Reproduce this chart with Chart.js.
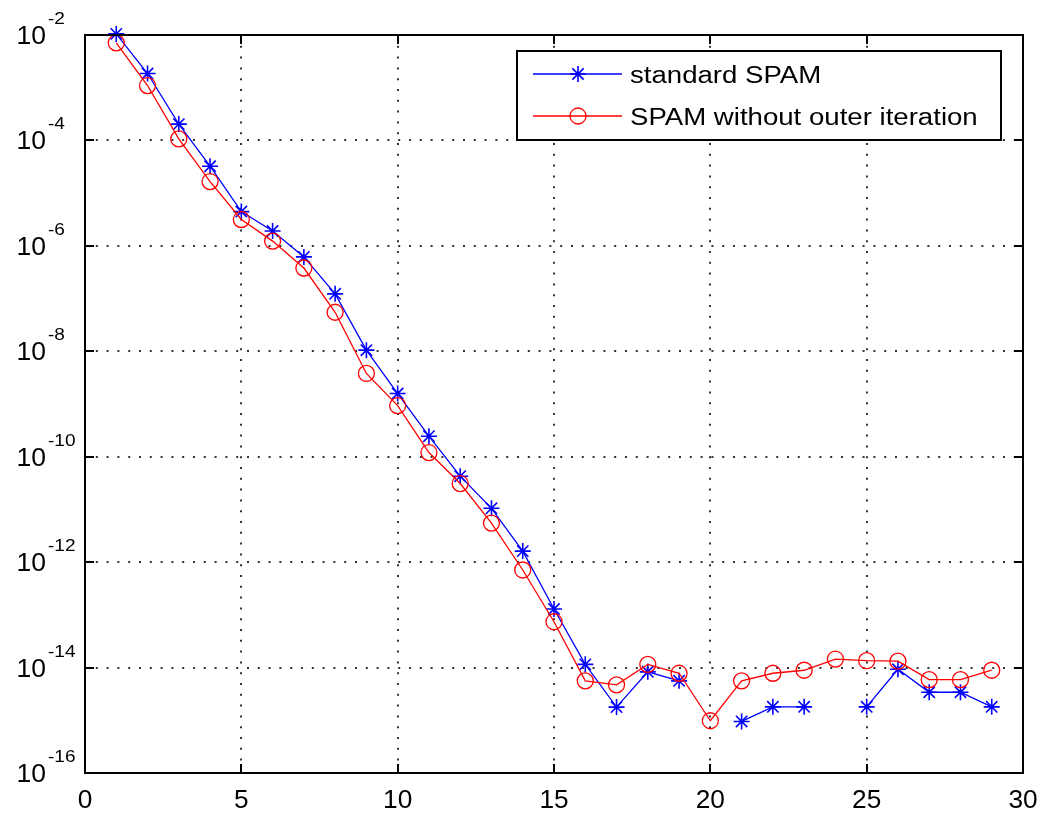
<!DOCTYPE html>
<html>
<head>
<meta charset="utf-8">
<script src="https://cdn.jsdelivr.net/npm/chart.js@4/dist/chart.umd.min.js"></script>
<style>
  body { margin: 0; background: #fff; }
  #wrap { width: 1041px; height: 814px; }
</style>
</head>
<body>
<div id="wrap"><canvas id="errChart" width="1041" height="814"></canvas></div>
<script>
// iteration numbers
const iterations = [1, 2, 3, 4, 5, 6, 7, 8, 9, 10, 11, 12, 13, 14, 15, 16, 17, 18, 19, 20, 21, 22, 23, 24, 25, 26, 27, 28, 29];

// residuals (null = not plotted on log axis)
const standardSpam = [1.05e-2, 1.86e-3, 2.04e-4, 3.24e-5, 4.47e-6, 1.91e-6, 6.17e-7, 1.23e-7, 1.05e-8, 1.58e-9,
  2.45e-10, 4.27e-11, 1.05e-11, 1.62e-12, 1.29e-13, 1.15e-14, 1.78e-15, 8.3e-15, 5.6e-15, null,
  9.5e-16, 1.8e-15, 1.8e-15, null, 1.8e-15, 9.3e-15, 3.4e-15, 3.4e-15, 1.8e-15];

const noOuterIter = [7.1e-3, 1.10e-3, 1.07e-4, 1.66e-5, 3.16e-6, 1.23e-6, 3.8e-7, 5.5e-8, 3.8e-9, 9.3e-10,
  1.20e-10, 3.1e-11, 5.5e-12, 7.1e-13, 7.4e-14, 5.6e-15, 4.7e-15, 1.15e-14, 7.8e-15, 9.8e-16,
  5.6e-15, 7.8e-15, 8.9e-15, 1.45e-14, 1.35e-14, 1.32e-14, 5.9e-15, 5.9e-15, 8.9e-15];

const seriesNames = ["standard SPAM", "SPAM without outer iteration"];

// y ticks every two decades, labelled as 10^exp
const yTickValues = [1e-16, 1e-14, 1e-12, 1e-10, 1e-8, 1e-6, 1e-4, 1e-2];
const yTickExps = ["-16", "-14", "-12", "-10", "-8", "-6", "-4", "-2"];
const xTickValues = [0, 5, 10, 15, 20, 25, 30];

const FONT = "'Liberation Sans', Arial, sans-serif";

function toPoints(ys) {
  return iterations.map((x, i) => ({ x: x, y: ys[i] }));
}

// text slightly wider than normal, like the original figure
function wideText(ctx, txt, x, y, size, align, sx) {
  ctx.save();
  ctx.translate(x, y);
  ctx.scale(sx, 1);
  ctx.font = size + "px " + FONT;
  ctx.textAlign = align;
  ctx.textBaseline = "alphabetic";
  ctx.fillStyle = "#000";
  ctx.fillText(txt, 0, 0);
  ctx.restore();
}

function drawMarker(ctx, style, x, y, r, color, lw) {
  ctx.save();
  ctx.strokeStyle = color;
  ctx.lineWidth = lw;
  ctx.beginPath();
  if (style === "circle") {
    ctx.arc(x, y, r, 0, Math.PI * 2);
  } else {
    const d = r * Math.SQRT1_2;
    ctx.moveTo(x - r, y); ctx.lineTo(x + r, y);
    ctx.moveTo(x, y - r); ctx.lineTo(x, y + r);
    ctx.moveTo(x - d, y - d); ctx.lineTo(x + d, y + d);
    ctx.moveTo(x - d, y + d); ctx.lineTo(x + d, y - d);
  }
  ctx.stroke();
  ctx.restore();
}

const matlabAxes = {
  id: "matlabAxes",
  afterDraw(chart) {
    const ctx = chart.ctx;
    const a = chart.chartArea;
    const xs = chart.scales.x;
    const ys = chart.scales.y;

    // box
    ctx.save();
    ctx.strokeStyle = "#000";
    ctx.lineWidth = 2;
    ctx.strokeRect(a.left, a.top, a.right - a.left, a.bottom - a.top);

    // inward tick marks on all four sides
    ctx.lineWidth = 2;
    ctx.beginPath();
    xTickValues.forEach(v => {
      const px = Math.round(xs.getPixelForValue(v));
      ctx.moveTo(px, a.bottom); ctx.lineTo(px, a.bottom - 9);
      ctx.moveTo(px, a.top); ctx.lineTo(px, a.top + 9);
    });
    yTickValues.forEach(v => {
      const py = Math.round(ys.getPixelForValue(v));
      ctx.moveTo(a.left, py); ctx.lineTo(a.left + 9, py);
      ctx.moveTo(a.right, py); ctx.lineTo(a.right - 9, py);
    });
    ctx.stroke();
    ctx.restore();

    // tick labels
    xTickValues.forEach(v => {
      wideText(ctx, String(v), xs.getPixelForValue(v), 808, 25, "center", 1.05);
    });
    yTickValues.forEach((v, i) => {
      const py = ys.getPixelForValue(v);
      wideText(ctx, "10", 46, py + 9, 26, "right", 1.02);
      wideText(ctx, yTickExps[i], 48, py - 11, 17, "left", 1.12);
    });

    // legend
    const lx = 517, ly = 51, lw = 484, lh = 89;
    ctx.save();
    ctx.fillStyle = "#fff";
    ctx.fillRect(lx, ly, lw, lh);
    ctx.strokeStyle = "#000";
    ctx.lineWidth = 2;
    ctx.strokeRect(lx, ly, lw, lh);
    ctx.restore();
    const rows = [74, 116];
    chart.data.datasets.forEach((ds, i) => {
      const y = rows[i];
      ctx.save();
      ctx.strokeStyle = ds.borderColor;
      ctx.lineWidth = ds.borderWidth;
      ctx.beginPath();
      ctx.moveTo(533, y); ctx.lineTo(622, y);
      ctx.stroke();
      ctx.restore();
      drawMarker(ctx, ds.pointStyle, 578, y, ds.pointRadius, ds.borderColor, ds.pointBorderWidth);
      wideText(ctx, ds.label, 630, y + 9, 23, "left", 1.2);
    });
  }
};

const errChart = new Chart(document.getElementById("errChart"), {
  type: "line",
  data: {
    datasets: [
      {
        label: seriesNames[0],
        data: toPoints(standardSpam),
        borderColor: "#0000ff",
        backgroundColor: "transparent",
        borderWidth: 1.3,
        pointStyle: "star",
        pointRadius: 8,
        pointBorderWidth: 1.6,
        pointBackgroundColor: "transparent",
        spanGaps: false,
        clip: false,
        order: 1,
      },
      {
        label: seriesNames[1],
        data: toPoints(noOuterIter),
        borderColor: "#ff0000",
        backgroundColor: "transparent",
        borderWidth: 1.3,
        pointStyle: "circle",
        pointRadius: 8,
        pointBorderWidth: 1.3,
        pointBackgroundColor: "transparent",
        spanGaps: false,
        clip: false,
        order: 0,
      },
    ],
  },
  options: {
    responsive: false,
    animation: false,
    events: [],
    layout: { padding: { left: 85, right: 18, top: 35, bottom: 41 } },
    plugins: {
      legend: { display: false },
      tooltip: { enabled: false },
    },
    elements: { line: { tension: 0 } },
    scales: {
      x: {
        type: "linear",
        min: 0,
        max: 30,
        ticks: { display: false, stepSize: 5 },
        afterBuildTicks: (scale) => {
          scale.ticks = xTickValues.map(v => ({ value: v }));
        },
        grid: { color: "#333", lineWidth: 2, drawTicks: false },
        border: { display: false, dash: [2, 8.8] },
      },
      y: {
        type: "logarithmic",
        min: 1e-16,
        max: 1e-2,
        ticks: { display: false },
        afterBuildTicks: (scale) => {
          scale.ticks = yTickValues.map(v => ({ value: v }));
        },
        grid: { color: "#333", lineWidth: 2, drawTicks: false },
        border: { display: false, dash: [2, 8.8] },
      },
    },
  },
  plugins: [matlabAxes],
});
</script>
</body>
</html>
